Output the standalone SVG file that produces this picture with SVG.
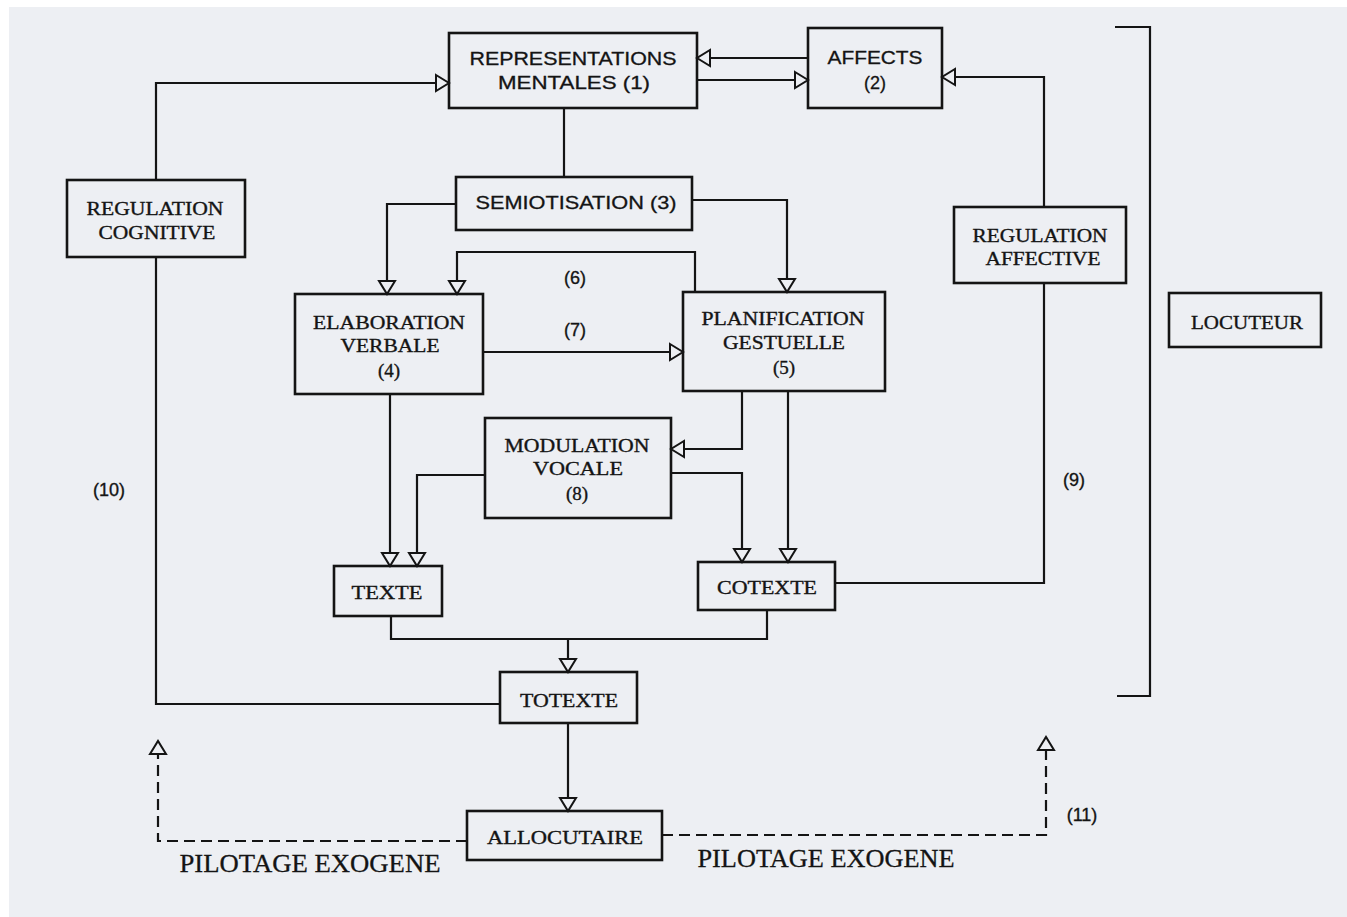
<svg xmlns="http://www.w3.org/2000/svg" width="1347" height="917" viewBox="0 0 1347 917">
<style>
.bx{fill:none;stroke:#141414;stroke-width:2.6}
.ln{fill:none;stroke:#141414;stroke-width:2.2}
.ds{fill:none;stroke:#141414;stroke-width:2.2;stroke-dasharray:11 6}
.t{font-family:"Liberation Serif","DejaVu Serif",serif;font-size:19px;fill:#141414;stroke:#141414;stroke-width:0.35;text-anchor:middle}
.s{font-family:"Liberation Sans","DejaVu Sans",sans-serif;font-size:18px;fill:#141414;stroke:#141414;stroke-width:0.3;text-anchor:middle}
.n{font-family:"Liberation Sans","DejaVu Sans",sans-serif;font-size:18px;fill:#141414;stroke:#141414;stroke-width:0.35;text-anchor:middle}
.p{font-family:"Liberation Serif","DejaVu Serif",serif;font-size:26px;fill:#141414;stroke:#141414;stroke-width:0.3;text-anchor:middle}
</style>
<defs>
<marker id="a" viewBox="-1 -1 16 18" refX="13" refY="8" markerWidth="16" markerHeight="18" markerUnits="userSpaceOnUse" orient="auto" overflow="visible">
<path d="M0,0 L13,8 L0,16 Z" fill="#edeff3" stroke="#141414" stroke-width="2"/>
</marker>
</defs>
<rect x="0" y="0" width="1347" height="917" fill="#ffffff"/>
<rect x="9" y="7" width="1338" height="910" fill="#edeff3"/>

<g id="connectors">
<path class="ln" d="M156 180 V83 H449" marker-end="url(#a)"/>
<path class="ln" d="M808 58 H697" marker-end="url(#a)"/>
<path class="ln" d="M697 80 H808" marker-end="url(#a)"/>
<path class="ln" d="M564 108 V177"/>
<path class="ln" d="M456 204 H387 V294" marker-end="url(#a)"/>
<path class="ln" d="M692 200 H787 V292" marker-end="url(#a)"/>
<path class="ln" d="M695 292 V252 H457 V294" marker-end="url(#a)"/>
<path class="ln" d="M483 352 H683" marker-end="url(#a)"/>
<path class="ln" d="M742 391 V449 H671" marker-end="url(#a)"/>
<path class="ln" d="M788 391 V562" marker-end="url(#a)"/>
<path class="ln" d="M671 473 H742 V562" marker-end="url(#a)"/>
<path class="ln" d="M485 475 H417 V566" marker-end="url(#a)"/>
<path class="ln" d="M390 394 V566" marker-end="url(#a)"/>
<path class="ln" d="M391 616 V639 H767 V610"/>
<path class="ln" d="M568 639 V672" marker-end="url(#a)"/>
<path class="ln" d="M500 704 H156 V257"/>
<path class="ln" d="M568 723 V811" marker-end="url(#a)"/>
<path class="ln" d="M1044 207 V77 H942" marker-end="url(#a)"/>
<path class="ln" d="M835 583 H1044 V283"/>
<path class="ln" d="M1115 27 H1150 V696 H1117"/>
<path class="ds" d="M467 841 H158 V741" marker-end="url(#a)"/>
<path class="ds" d="M662 835 H1046 V737" marker-end="url(#a)"/>
<text class="n" x="575" y="284">(6)</text>
<text class="n" x="575" y="336">(7)</text>
<text class="n" x="1074" y="486">(9)</text>
<text class="n" x="109" y="496">(10)</text>
<text class="n" x="1082" y="821">(11)</text>
<text class="p" x="310" y="872" textLength="261" lengthAdjust="spacingAndGlyphs">PILOTAGE EXOGENE</text>
<text class="p" x="826" y="867" textLength="257" lengthAdjust="spacingAndGlyphs">PILOTAGE EXOGENE</text>
</g>

<g id="representations">
<rect class="bx" x="449" y="33" width="248" height="75"/>
<text class="s" x="573" y="65" textLength="207" lengthAdjust="spacingAndGlyphs">REPRESENTATIONS</text>
<text class="s" x="574" y="89" textLength="152" lengthAdjust="spacingAndGlyphs">MENTALES (1)</text>
</g>
<g id="affects">
<rect class="bx" x="808" y="28" width="134" height="80"/>
<text class="s" x="875" y="64" textLength="95" lengthAdjust="spacingAndGlyphs">AFFECTS</text>
<text class="s" x="875" y="89">(2)</text>
</g>
<g id="semiotisation">
<rect class="bx" x="456" y="177" width="236" height="53"/>
<text class="s" x="576" y="209" textLength="201" lengthAdjust="spacingAndGlyphs">SEMIOTISATION (3)</text>
</g>
<g id="regulation-cognitive">
<rect class="bx" x="67" y="180" width="178" height="77"/>
<text class="t" x="155" y="215" textLength="137" lengthAdjust="spacingAndGlyphs">REGULATION</text>
<text class="t" x="157" y="239" textLength="117" lengthAdjust="spacingAndGlyphs">COGNITIVE</text>
</g>
<g id="regulation-affective">
<rect class="bx" x="954" y="207" width="172" height="76"/>
<text class="t" x="1040" y="242" textLength="135" lengthAdjust="spacingAndGlyphs">REGULATION</text>
<text class="t" x="1043" y="265" textLength="115" lengthAdjust="spacingAndGlyphs">AFFECTIVE</text>
</g>
<g id="locuteur">
<rect class="bx" x="1169" y="293" width="152" height="54"/>
<text class="t" x="1247" y="329" textLength="112" lengthAdjust="spacingAndGlyphs">LOCUTEUR</text>
</g>
<g id="elaboration">
<rect class="bx" x="295" y="294" width="188" height="100"/>
<text class="t" x="389" y="329" textLength="152" lengthAdjust="spacingAndGlyphs">ELABORATION</text>
<text class="t" x="390" y="352" textLength="99" lengthAdjust="spacingAndGlyphs">VERBALE</text>
<text class="t" x="389" y="377">(4)</text>
</g>
<g id="planification">
<rect class="bx" x="683" y="292" width="202" height="99"/>
<text class="t" x="783" y="325" textLength="163" lengthAdjust="spacingAndGlyphs">PLANIFICATION</text>
<text class="t" x="784" y="349" textLength="122" lengthAdjust="spacingAndGlyphs">GESTUELLE</text>
<text class="t" x="784" y="374">(5)</text>
</g>
<g id="modulation">
<rect class="bx" x="485" y="418" width="186" height="100"/>
<text class="t" x="577" y="452" textLength="145" lengthAdjust="spacingAndGlyphs">MODULATION</text>
<text class="t" x="578" y="475" textLength="90" lengthAdjust="spacingAndGlyphs">VOCALE</text>
<text class="t" x="577" y="500">(8)</text>
</g>
<g id="texte">
<rect class="bx" x="334" y="566" width="108" height="50"/>
<text class="t" x="387" y="599" textLength="71" lengthAdjust="spacingAndGlyphs">TEXTE</text>
</g>
<g id="cotexte">
<rect class="bx" x="698" y="562" width="137" height="48"/>
<text class="t" x="767" y="594" textLength="100" lengthAdjust="spacingAndGlyphs">COTEXTE</text>
</g>
<g id="totexte">
<rect class="bx" x="500" y="672" width="137" height="51"/>
<text class="t" x="569" y="707" textLength="98" lengthAdjust="spacingAndGlyphs">TOTEXTE</text>
</g>
<g id="allocutaire">
<rect class="bx" x="467" y="811" width="195" height="49"/>
<text class="t" x="565" y="844" textLength="156" lengthAdjust="spacingAndGlyphs">ALLOCUTAIRE</text>
</g>
</svg>
